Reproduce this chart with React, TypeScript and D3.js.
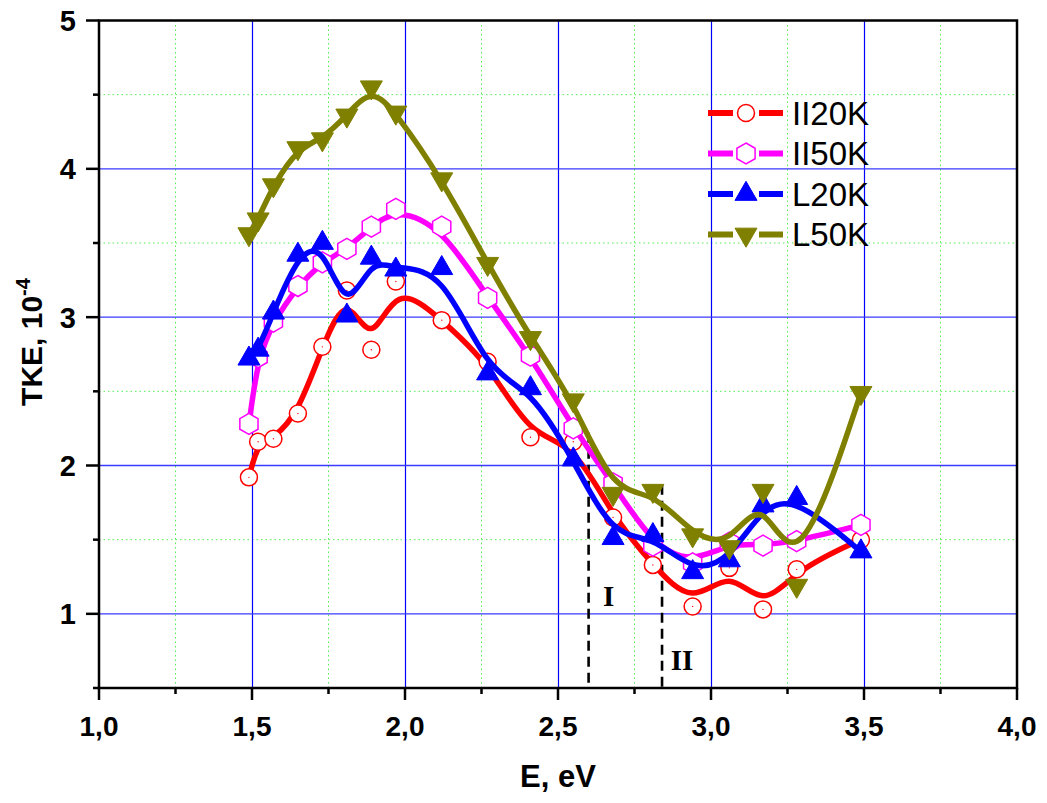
import React, { useEffect, useRef } from "react";
import * as d3 from "d3";

// Photon energy, eV (shared by every series)
const energy = [1.49, 1.52, 1.57, 1.65, 1.73, 1.81, 1.89, 1.97, 2.12, 2.27, 2.41, 2.55, 2.68, 2.81, 2.94, 3.06, 3.17, 3.28, 3.49];

// TKE, 10^-4
const ii20K = [1.92, 2.16, 2.18, 2.35, 2.80, 3.18, 2.78, 3.24, 2.98, 2.70, 2.19, 2.16, 1.65, 1.33, 1.05, 1.31, 1.03, 1.30, 1.50];
const ii50K = [2.28, 2.73, 2.97, 3.21, 3.37, 3.46, 3.61, 3.73, 3.61, 3.13, 2.74, 2.25, 1.88, 1.46, 1.34, 1.48, 1.46, 1.49, 1.60];
const l20K = [2.72, 2.78, 3.03, 3.42, 3.50, 3.01, 3.40, 3.32, 3.33, 2.62, 2.52, 2.04, 1.51, 1.53, 1.28, 1.36, 1.73, 1.78, 1.42];
const l50K = [3.56, 3.66, 3.89, 4.14, 4.20, 4.36, 4.55, 4.38, 3.93, 3.36, 2.86, 2.44, 1.81, 1.83, 1.53, 1.45, 1.83, 1.19, 2.49];

const seriesNames = ["II20K", "II50K", "L20K", "L50K"];
const seriesValues = [ii20K, ii50K, l20K, l50K];
const seriesColors = ["#ff0000", "#ff00ff", "#0000ff", "#808000"];
const seriesSymbols = ["circle", "hexagon", "triangleUp", "triangleDown"];

const xTicks = [1.0, 1.5, 2.0, 2.5, 3.0, 3.5, 4.0];
const xMinorTicks = [1.25, 1.75, 2.25, 2.75, 3.25, 3.75];
const yTicks = [1, 2, 3, 4, 5];
const yMinorTicks = [0.5, 1.5, 2.5, 3.5, 4.5];

// Boundary markers I and II: [energy, top of dashed line in TKE units, label]
const boundaryX = [2.6, 2.84];
const boundaryTop = [2.22, 1.87];
const boundaryLabels = ["I", "II"];

const W = 1047;
const H = 803;
const M = { left: 99, right: 30, top: 20.5, bottom: 115 };

function symbolPath(kind: string): string {
  if (kind === "circle") return d3.symbol(d3.symbolCircle, Math.PI * 8.5 * 8.5)()!;
  if (kind === "hexagon") {
    const r = 10.5;
    const pts = d3.range(6).map((i) => {
      const a = (Math.PI / 3) * i - Math.PI / 2;
      return [r * Math.cos(a), r * Math.sin(a)];
    });
    return "M" + pts.map((p) => p.join(",")).join("L") + "Z";
  }
  const side = 22;
  return d3.symbol(d3.symbolTriangle, (Math.sqrt(3) / 4) * side * side)()!;
}

export default function App() {
  const ref = useRef<SVGSVGElement>(null);

  useEffect(() => {
    const svg = d3.select(ref.current);
    svg.selectAll("*").remove();

    const x = d3.scaleLinear().domain([1, 4]).range([M.left, W - M.right]);
    const y = d3.scaleLinear().domain([0.5, 5]).range([H - M.bottom, M.top]);
    const x0 = x.range()[0], x1 = x.range()[1];
    const y0 = y.range()[0], y1 = y.range()[1];

    // minor grid (dotted green)
    const grid = svg.append("g");
    grid.selectAll("line.xm").data(xMinorTicks).join("line")
      .attr("x1", (d) => x(d)).attr("x2", (d) => x(d)).attr("y1", y0).attr("y2", y1)
      .attr("stroke", "#55ee55").attr("stroke-width", 1).attr("stroke-dasharray", "1.5,3");
    grid.selectAll("line.ym").data(yMinorTicks.filter((d) => d > 0.5)).join("line")
      .attr("y1", (d) => y(d)).attr("y2", (d) => y(d)).attr("x1", x0).attr("x2", x1)
      .attr("stroke", "#55ee55").attr("stroke-width", 1).attr("stroke-dasharray", "1.5,3");
    // major grid (blue)
    grid.selectAll("line.xM").data(xTicks.filter((d) => d > 1 && d < 4)).join("line")
      .attr("x1", (d) => Math.round(x(d)) + 0.5).attr("x2", (d) => Math.round(x(d)) + 0.5).attr("y1", y0).attr("y2", y1)
      .attr("stroke", "#0000ff").attr("stroke-width", 1.2);
    grid.selectAll("line.yM").data(yTicks.filter((d) => d < 5)).join("line")
      .attr("y1", (d) => y(d)).attr("y2", (d) => y(d)).attr("x1", x0).attr("x2", x1)
      .attr("stroke", "#3a3aff").attr("stroke-width", 1.4);

    // dashed boundary lines
    const bnd = svg.append("g");
    const serif = "'Liberation Serif', 'Times New Roman', serif";
    boundaryX.forEach((bx, i) => {
      bnd.append("line")
        .attr("x1", x(bx)).attr("x2", x(bx)).attr("y1", y(boundaryTop[i])).attr("y2", y0)
        .attr("stroke", "#000").attr("stroke-width", 2.6).attr("stroke-dasharray", "10,6");
    });
    bnd.append("text").attr("x", x(boundaryX[0]) + 20).attr("y", y(1.05))
      .attr("font-family", serif).attr("font-weight", "bold").attr("font-size", 29)
      .attr("text-anchor", "middle").text(boundaryLabels[0]);
    bnd.append("text").attr("x", x(boundaryX[1]) + 20).attr("y", y(0.62))
      .attr("font-family", serif).attr("font-weight", "bold").attr("font-size", 29)
      .attr("text-anchor", "middle").text(boundaryLabels[1]);

    // series: smoothed curve then symbols
    const line = d3.line<number>()
      .x((_, i) => x(energy[i]))
      .y((d) => y(d))
      .curve(d3.curveBasis);

    seriesValues.forEach((vals, si) => {
      const g = svg.append("g");
      const color = seriesColors[si];
      g.append("path").datum(vals).attr("d", line)
        .attr("fill", "none").attr("stroke", color).attr("stroke-width", 5.5)
        .attr("stroke-linejoin", "round").attr("stroke-linecap", "round");
      const kind = seriesSymbols[si];
      const p = symbolPath(kind);
      const hollow = kind === "circle" || kind === "hexagon";
      g.selectAll("path.sym").data(vals).join("path")
        .attr("class", "sym")
        .attr("d", p)
        .attr("transform", (d, i) => `translate(${x(energy[i])},${y(d)})${kind === "triangleDown" ? " rotate(180)" : ""}`)
        .attr("fill", hollow ? "#fff" : color)
        .attr("stroke", color)
        .attr("stroke-width", hollow ? 1.5 : 1);
      if (kind === "circle") {
        g.selectAll("circle.dot").data(vals).join("circle")
          .attr("class", "dot").attr("cx", (_, i) => x(energy[i])).attr("cy", (d) => y(d))
          .attr("r", 0.7).attr("fill", color);
      }
    });

    // frame
    svg.append("rect").attr("x", x0).attr("y", y1).attr("width", x1 - x0).attr("height", y0 - y1)
      .attr("fill", "none").attr("stroke", "#000").attr("stroke-width", 2.5);

    const font = "'Liberation Sans', Arial, sans-serif";

    // x axis ticks and labels
    const ax = svg.append("g");
    ax.selectAll("line.xt").data(xTicks).join("line")
      .attr("x1", (d) => x(d)).attr("x2", (d) => x(d)).attr("y1", y0).attr("y2", y0 + 12)
      .attr("stroke", "#000").attr("stroke-width", 2.5);
    ax.selectAll("line.xmt").data(xMinorTicks).join("line")
      .attr("x1", (d) => x(d)).attr("x2", (d) => x(d)).attr("y1", y0).attr("y2", y0 + 6)
      .attr("stroke", "#000").attr("stroke-width", 2.5);
    ax.selectAll("text.xl").data(xTicks).join("text")
      .attr("x", (d) => x(d)).attr("y", 736)
      .attr("text-anchor", "middle").attr("font-family", font).attr("font-weight", "bold").attr("font-size", 28)
      .text((d) => d3.format(".1f")(d).replace(".", ","));

    // y axis ticks and labels
    ax.selectAll("line.yt").data(yTicks).join("line")
      .attr("y1", (d) => y(d)).attr("y2", (d) => y(d)).attr("x1", x0 - 13).attr("x2", x0)
      .attr("stroke", "#000").attr("stroke-width", 2.5);
    ax.selectAll("line.ymt").data(yMinorTicks).join("line")
      .attr("y1", (d) => y(d)).attr("y2", (d) => y(d)).attr("x1", x0 - 6).attr("x2", x0)
      .attr("stroke", "#000").attr("stroke-width", 2.5);
    ax.selectAll("text.yl").data(yTicks).join("text")
      .attr("x", 76).attr("y", (d) => y(d)).attr("dy", "0.36em")
      .attr("text-anchor", "end").attr("font-family", font).attr("font-weight", "bold").attr("font-size", 29)
      .text((d) => String(d));

    // axis titles
    svg.append("text").attr("x", x(2.5)).attr("y", 787)
      .attr("text-anchor", "middle").attr("font-family", font).attr("font-weight", "bold").attr("font-size", 31)
      .text("E, eV");
    const yt = svg.append("text")
      .attr("transform", `translate(42,342) rotate(-90)`)
      .attr("text-anchor", "middle").attr("font-family", font).attr("font-weight", "bold").attr("font-size", 30);
    yt.append("tspan").text("TKE, 10");
    yt.append("tspan").attr("dy", -12).attr("font-size", 20).text("-4");

    // legend
    const lg = svg.append("g");
    seriesNames.forEach((name, i) => {
      const cy = 113 + i * 40.5;
      const color = seriesColors[i];
      lg.append("line").attr("x1", 708).attr("x2", 783).attr("y1", cy).attr("y2", cy)
        .attr("stroke", color).attr("stroke-width", 6);
      const kind = seriesSymbols[i];
      const hollow = kind === "circle" || kind === "hexagon";
      lg.append("rect").attr("x", 733).attr("y", cy - 5).attr("width", 26).attr("height", 10).attr("fill", "#fff");
      lg.append("path").attr("d", symbolPath(kind))
        .attr("transform", `translate(746,${cy})${kind === "triangleDown" ? " rotate(180)" : ""}`)
        .attr("fill", hollow ? "#fff" : color).attr("stroke", color).attr("stroke-width", hollow ? 1.5 : 1);
      lg.append("text").attr("x", 792).attr("y", cy).attr("dy", "0.36em")
        .attr("font-family", font).attr("font-size", 33).text(name);
    });
  }, []);

  return (
    <svg
      ref={ref}
      width={W}
      height={H}
      style={{ position: "absolute", left: 0, top: 0, background: "#fff" }}
    />
  );
}
